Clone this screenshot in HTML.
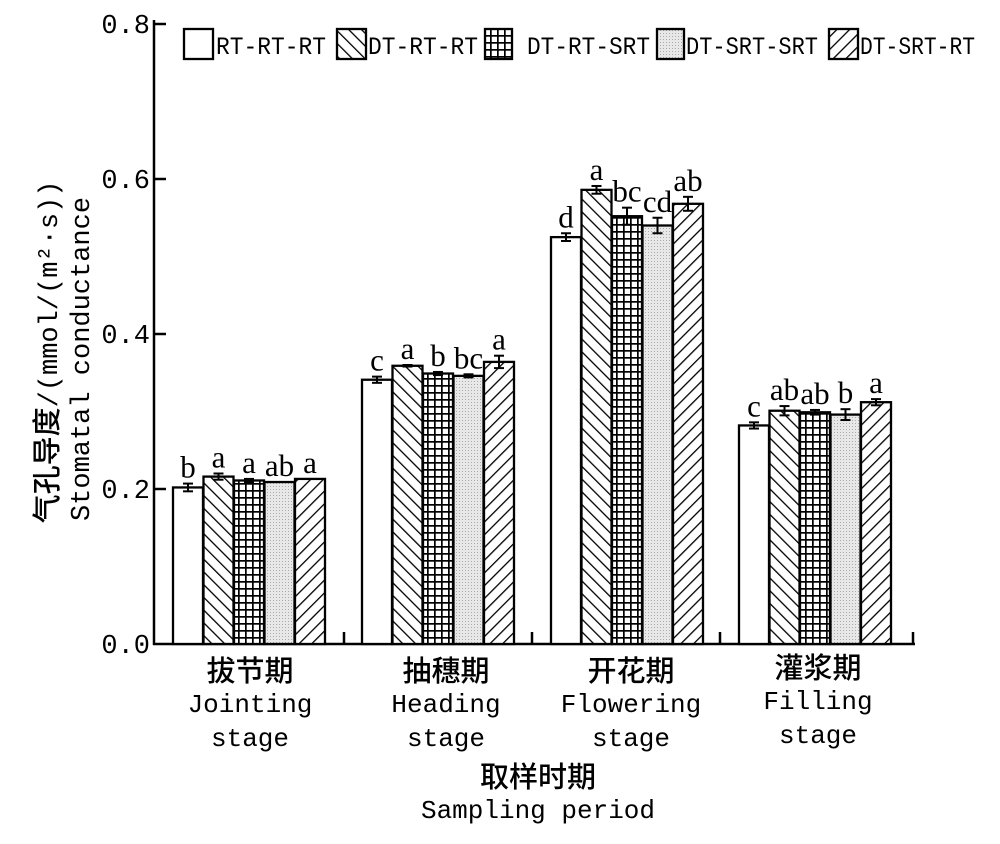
<!DOCTYPE html>
<html><head><meta charset="utf-8"><style>
html,body{margin:0;padding:0;background:#fff;}
svg text{font-family:"Liberation Mono","Noto Serif CJK SC",monospace;fill:#000;}
svg text.cjk{font-family:"Noto Sans CJK SC",sans-serif;font-weight:500;}
svg text.ser{font-family:"Liberation Serif",serif;}
</style></head><body>
<svg width="1000" height="839" xmlns="http://www.w3.org/2000/svg">
<defs>
<pattern id="pb" patternUnits="userSpaceOnUse" width="9" height="9" patternTransform="rotate(-45)"><rect width="9" height="9" fill="#fff"/><line x1="0" y1="0" x2="0" y2="9" stroke="#000" stroke-width="2.6"/></pattern>
<pattern id="pf" patternUnits="userSpaceOnUse" width="9" height="9" patternTransform="rotate(45)"><rect width="9" height="9" fill="#fff"/><line x1="0" y1="0" x2="0" y2="9" stroke="#000" stroke-width="2.6"/></pattern>
<pattern id="pg" patternUnits="userSpaceOnUse" width="7" height="7"><rect width="7" height="7" fill="#fff"/><line x1="0" y1="0.8" x2="7" y2="0.8" stroke="#000" stroke-width="1.8"/><line x1="0.8" y1="0" x2="0.8" y2="7" stroke="#000" stroke-width="1.8"/></pattern>
<pattern id="pd" patternUnits="userSpaceOnUse" width="3" height="3"><rect width="3" height="3" fill="#e8e8e8"/><rect width="1" height="1" fill="#aaa"/></pattern>
</defs>
<g stroke="#000" stroke-width="2.5" fill="none">
<line x1="154" y1="20" x2="154" y2="645"/>
<line x1="153" y1="644" x2="915" y2="644"/>
<line x1="154" y1="24" x2="166" y2="24"/><line x1="154" y1="179" x2="166" y2="179"/><line x1="154" y1="334" x2="166" y2="334"/><line x1="154" y1="489" x2="166" y2="489"/>
<line x1="344" y1="644" x2="344" y2="632"/><line x1="532" y1="644" x2="532" y2="632"/><line x1="720" y1="644" x2="720" y2="632"/><line x1="913" y1="644" x2="913" y2="632"/>
</g>
<g font-size="27">
<text x="150" y="33" text-anchor="end">0.8</text>
<text x="150" y="188" text-anchor="end">0.6</text>
<text x="150" y="343" text-anchor="end">0.4</text>
<text x="150" y="498" text-anchor="end">0.2</text>
<text x="150" y="653" text-anchor="end">0.0</text>
</g>
<text transform="translate(57,352) rotate(-90)" font-size="27" text-anchor="middle"><tspan style="font-family:'Noto Sans CJK SC',sans-serif;font-weight:500" font-size="29">气孔导度</tspan>/(mmol/(m²·s))</text>
<text transform="translate(89,359) rotate(-90)" font-size="27" text-anchor="middle">Stomatal conductance</text>
<g id="bars" stroke="#000" stroke-width="2.3"></g>
<g id="errs" stroke="#000" stroke-width="2"></g>
<g id="lets" font-size="31" text-anchor="middle"></g>
<g font-size="26" text-anchor="middle">
<text class="cjk" font-size="29" x="250" y="681">拔节期</text><text x="250" y="712">Jointing</text><text x="250" y="746">stage</text>
<text class="cjk" font-size="29" x="446" y="681">抽穗期</text><text x="446" y="712">Heading</text><text x="446" y="746">stage</text>
<text class="cjk" font-size="29" x="631" y="681">开花期</text><text x="631" y="712">Flowering</text><text x="631" y="746">stage</text>
<text class="cjk" font-size="29" x="818" y="678">灌浆期</text><text x="818" y="709">Filling</text><text x="818" y="743">stage</text>
<text class="cjk" font-size="29" x="538" y="787">取样时期</text><text x="538" y="818">Sampling period</text>
</g>
<g stroke="#000" stroke-width="2.3">
<rect x="184" y="29" width="29" height="30" fill="#fff"/>
<rect x="337" y="29" width="29" height="30" fill="url(#pb)"/>
<rect x="485" y="29" width="27" height="30" fill="url(#pg)"/>
<rect x="657" y="29" width="27" height="30" fill="url(#pd)"/>
<rect x="829" y="29" width="29" height="30" fill="url(#pf)"/>
</g>
<g font-size="25">
<text x="216" y="54" textLength="110" lengthAdjust="spacingAndGlyphs">RT-RT-RT</text>
<text x="368" y="54" textLength="110" lengthAdjust="spacingAndGlyphs">DT-RT-RT</text>
<text x="527" y="54" textLength="123" lengthAdjust="spacingAndGlyphs">DT-RT-SRT</text>
<text x="686" y="54" textLength="132" lengthAdjust="spacingAndGlyphs">DT-SRT-SRT</text>
<text x="860" y="54" textLength="115" lengthAdjust="spacingAndGlyphs">DT-SRT-RT</text>
</g>
<script>
var fills=['#fff','url(#pb)','url(#pg)','url(#pd)','url(#pf)'];
var starts=[173,362,551,739];
var vals=[[.202,.216,.211,.209,.213],[.341,.359,.349,.346,.364],[.525,.586,.552,.540,.568],[.282,.301,.299,.296,.312]];
var errs=[[.005,.004,.002,0,0],[.004,.001,.002,.002,.008],[.005,.005,.011,.01,.009],[.004,.006,.003,.007,.004]];
var lets=[['b','a','a','ab','a'],['c','a','b','bc','a'],['d','a','bc','cd','ab'],['c','ab','ab','b','a']];
var ns='http://www.w3.org/2000/svg';
function el(t,a,p){var e=document.createElementNS(ns,t);for(var k in a)e.setAttribute(k,a[k]);document.getElementById(p).appendChild(e);return e;}
for(var g=0;g<4;g++)for(var i=0;i<5;i++){
 var x=starts[g]+i*30.5,v=vals[g][i],y=644-v*775;
 el('rect',{x:x,y:y,width:30,height:644-y,fill:fills[i]},'bars');
 var e=errs[g][i]*775,cx=x+15;
 if(e>0){el('line',{x1:cx,y1:y-e,x2:cx,y2:y+e},'errs');el('line',{x1:cx-5,y1:y-e,x2:cx+5,y2:y-e},'errs');el('line',{x1:cx-5,y1:y+e,x2:cx+5,y2:y+e},'errs');}
 var t=el('text',{x:cx,y:y-e-6,'class':'ser'},'lets');t.textContent=lets[g][i];
}
</script>
</svg>
</body></html>
